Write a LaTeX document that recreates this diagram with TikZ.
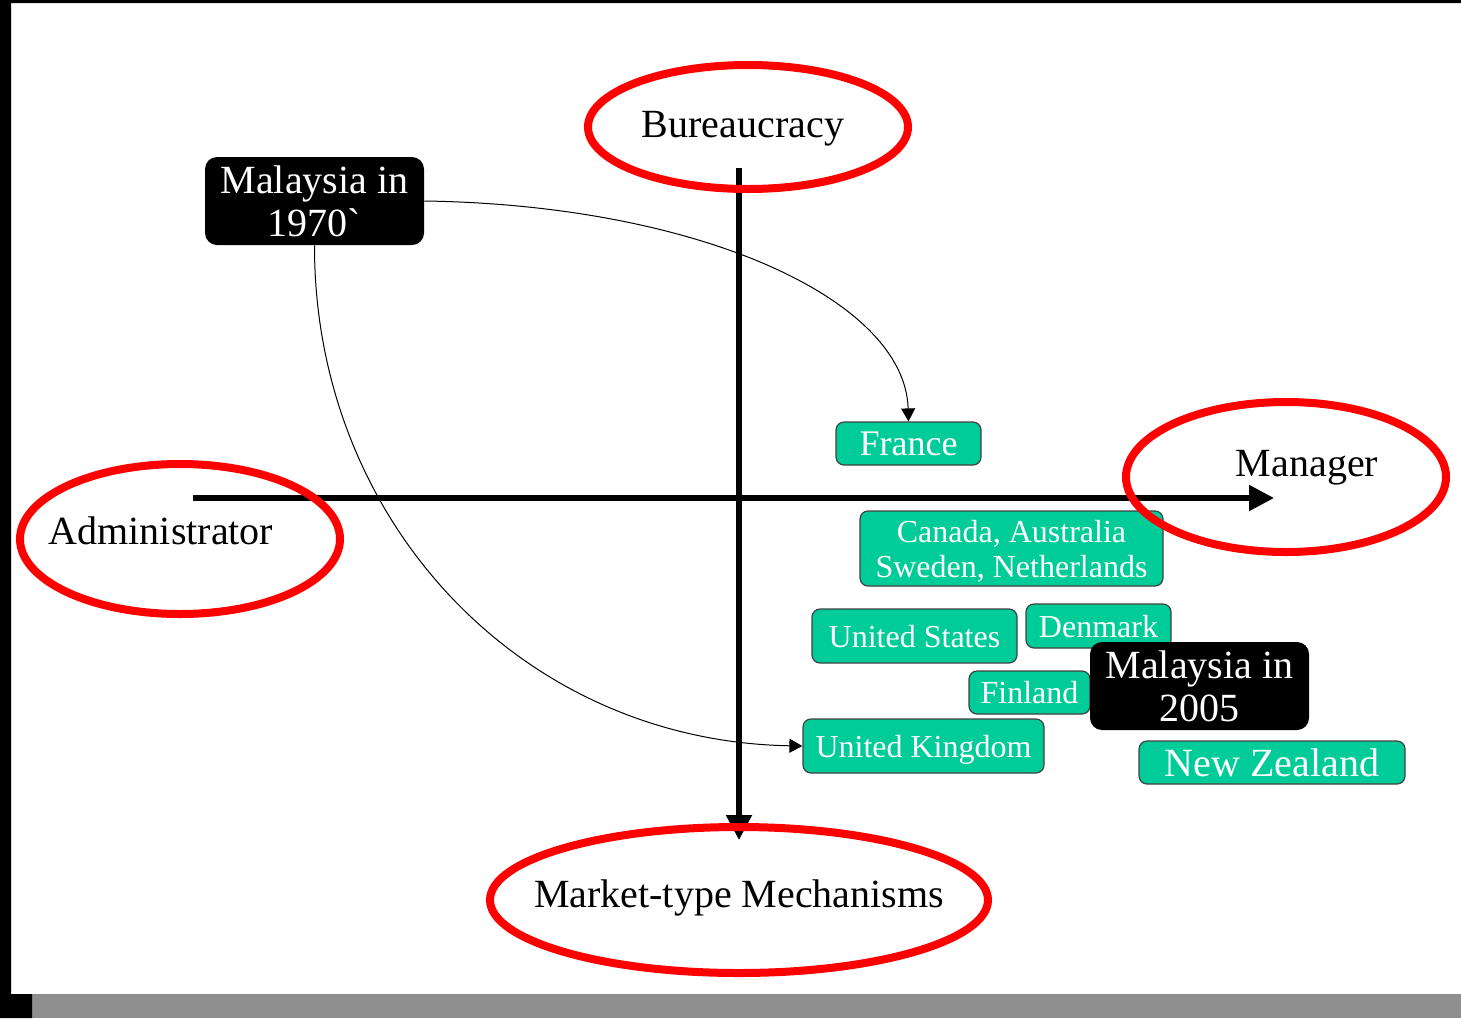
\documentclass[tikz,border=0pt]{standalone}
\usepackage{fontspec}
\setmainfont{Liberation Serif}
\usetikzlibrary{arrows.meta}
\definecolor{cgreen}{HTML}{00CC99}
\definecolor{barg}{HTML}{8F8F8F}
\begin{document}
\begin{tikzpicture}[x=0.5pt,y=-0.5pt,line join=round,
	cbox/.style={draw=black!75,line width=0.6pt,fill=cgreen,rounded corners=4pt,text=white,inner sep=0pt,text depth=0pt,align=center,font=\fontsize{16}{17.5}\selectfont},
	mbox/.style={fill=black,rounded corners=6pt,text=white,inner sep=0pt,text depth=0pt,align=center,font=\fontsize{20}{21.5}\selectfont,minimum width=109.5pt,minimum height=44pt},
	axis/.style={line width=2.6pt,-{Triangle[length=12.5pt,width=12.5pt]}},
	oval/.style={draw=red,line width=4pt},
	lab/.style={font=\fontsize{20}{22}\selectfont,text depth=0pt}]
	\useasboundingbox (0,0) rectangle (1461,1018);
	% frame
	\fill[barg] (32,994) rectangle (1461,1018);
	\fill[black] (0,0) rectangle (11,1018) (0,0) rectangle (1461,3) (0,994) rectangle (32,1018);
	\path
	(739,168) coordinate (T)
	(739,840) coordinate (B)
	(193,498) coordinate (L)
	(1274,498) coordinate (R)
	;
	\draw[axis] (T)--(B);
	\draw[axis] (L)--(R);
	% countries
	\node[cbox,minimum width=72.5pt,minimum height=21.5pt,font=\fontsize{18}{20}\selectfont] (fr) at (908.5,443.5) {France};
	\node[cbox,minimum width=151.5pt,minimum height=37.5pt] (ca) at (1011.5,548.5) {Canada, Australia\\Sweden, Netherlands};
	\node[cbox,minimum width=102.5pt,minimum height=27pt] (us) at (914.5,636) {United States};
	\node[cbox,minimum width=72.5pt,minimum height=22pt] (dk) at (1098.5,626) {Denmark};
	\node[cbox,minimum width=60.5pt,minimum height=21.5pt] (fi) at (1029.5,692.5) {Finland};
	\node[cbox,minimum width=120.5pt,minimum height=27pt] (uk) at (923.5,746) {United Kingdom};
	\node[cbox,minimum width=133pt,minimum height=21.5pt,font=\fontsize{20}{22}\selectfont] (nz) at (1272,762.5) {New Zealand};
	\node[mbox] (m05) at (1199.5,686) {Malaysia in\\2005};
	\node[mbox] (m70) at (314.5,201) {Malaysia in\\1970\textasciigrave};
	% moves
	\draw[line width=0.5pt,-{Triangle[length=6.5pt,width=7pt]}] (m70.east)..controls (700,205) and (905,300)..(fr.north);
	\draw[line width=0.5pt,-{Triangle[length=6.5pt,width=7pt]}] (m70.south)..controls (314,520) and (520,741)..(uk.west);
	% poles
	\draw[oval] (748,127) ellipse [x radius=160,y radius=62];
	\draw[oval] (1286,477) ellipse [x radius=160,y radius=75];
	\draw[oval] (180,539) ellipse [x radius=160,y radius=75];
	\draw[oval] (739,900) ellipse [x radius=249,y radius=73];
	\node[lab] (bur) at (743,124) {Bureaucracy};
	\node[lab] (man) at (1307,463) {Manager};
	\node[lab] (adm) at (161,531) {Administrator};
	\node[lab] (mkt) at (739,894) {Market-type Mechanisms};
\end{tikzpicture}
\end{document}
